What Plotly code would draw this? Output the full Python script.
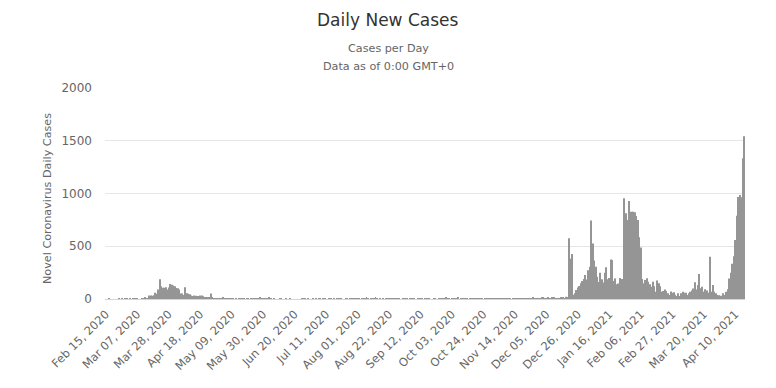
import pandas as pd
import plotly.graph_objects as go

start_date = "2020-02-15"

cases_2020_feb = [0, 0, 1, 0, 0, 0, 0, 0, 0, 2, 0, 3, 0, 1, 1]
cases_2020_mar = [0, 1, 0, 1, 4, 1, 2, 0, 0, 3, 6, 11, 5, 7, 32, 33, 30, 35, 60, 50,
                  89, 188, 122, 106, 107, 111, 91, 109, 143, 136, 127]
cases_2020_apr = [120, 104, 103, 89, 51, 51, 38, 111, 54, 50, 45, 33, 28, 34, 30, 29,
                  28, 33, 32, 27, 19, 15, 13, 15, 53, 15, 9, 7, 7, 3]
cases_2020_may = [6, 6, 18, 3, 1, 1, 1, 3, 3, 5, 0, 2, 0, 1, 7, 3, 3, 0, 2, 1, 0, 3, 1,
                  1, 2, 3, 3, 11, 1, 3, 1]
cases_2020_jun = [1, 1, 12, 1, 0, 2, 0, 0, 0, 1, 1, 0, 0, 5, 0, 0, 4, 0, 0, 0, 0, 0, 0,
                  0, 2, 2, 5, 0, 2, 0]
cases_2020_jul = [0, 3, 0, 2, 0, 1, 4, 0, 1, 3, 0, 0, 1, 6, 0, 3, 0, 2, 2, 2, 1, 0, 0,
                  1, 1, 0, 2, 2, 2, 1, 1]
cases_2020_aug = [1, 3, 0, 1, 5, 2, 12, 1, 0, 3, 4, 2, 14, 2, 0, 5, 0, 2, 0, 2, 1, 2, 2,
                  1, 2, 1, 1, 3, 2, 0, 1]
cases_2020_sep = [3, 1, 2, 0, 1, 2, 7, 1, 0, 7, 1, 4, 2, 0, 2, 3, 1, 2, 0, 0, 1, 4, 0,
                  5, 3, 2, 2, 1, 14, 3]
cases_2020_oct = [6, 0, 5, 2, 1, 4, 12, 0, 2, 2, 3, 4, 3, 0, 5, 3, 4, 3, 3, 2, 1, 6, 4,
                  0, 8, 3, 9, 3, 4, 1, 2]
cases_2020_nov = [2, 7, 4, 3, 6, 7, 3, 2, 4, 2, 6, 0, 7, 4, 1, 5, 6, 4, 5, 8, 4, 5, 8,
                  6, 5, 14, 7, 2, 5, 6]
cases_2020_dec = [8, 10, 14, 9, 1, 13, 6, 3, 12, 14, 6, 4, 8, 5, 13, 17, 8, 22, 18, 576,
                  382, 427, 40, 55, 85, 110, 123, 150, 170, 190, 227]
cases_2021_jan = [185, 272, 305, 745, 527, 365, 305, 212, 162, 249, 187, 157, 250, 301,
                  188, 200, 374, 369, 171, 194, 140, 146, 198, 190, 190, 954, 812, 749,
                  929, 828, 828]
cases_2021_feb = [828, 822, 787, 749, 585, 487, 190, 150, 180, 196, 164, 140, 117, 164,
                  120, 69, 175, 150, 120, 69, 75, 90, 75, 54, 38, 70, 60, 65]
cases_2021_mar = [40, 28, 54, 28, 54, 69, 60, 60, 38, 54, 69, 80, 100, 158, 90, 132, 237,
                  101, 117, 69, 92, 80, 60, 401, 69, 132, 69, 54, 38, 35, 31]
cases_2021_apr = [31, 54, 38, 69, 92, 194, 250, 334, 405, 559, 789, 967, 985, 965, 1335,
                  1543]

daily_cases = (cases_2020_feb + cases_2020_mar + cases_2020_apr + cases_2020_may +
               cases_2020_jun + cases_2020_jul + cases_2020_aug + cases_2020_sep +
               cases_2020_oct + cases_2020_nov + cases_2020_dec + cases_2021_jan +
               cases_2021_feb + cases_2021_mar + cases_2021_apr)

dates = pd.date_range(start_date, periods=len(daily_cases), freq="D")
categories = [d.strftime("%b %d, %Y") for d in dates]
tick_labels = categories[::21]

y_ticks = [0, 500, 1000, 1500, 2000]

FONT = "DejaVu Sans"

# the page body adds an 8px offset, so the figure is laid out 8px up/left
OFF = 8
W, H = 768, 380
ML, MR, MT, MB = 105 - OFF, 31, 88 - OFF, 89
plot_w = W - ML - MR
plot_h = H - MT - MB


def px_x(px):
    return (px - OFF - ML) / plot_w


def px_y(py):
    return (H - MB - (py - OFF)) / plot_h


fig = go.Figure()
fig.add_trace(go.Bar(
    x=categories, y=daily_cases,
    marker=dict(color="#959595", line=dict(width=0)),
    hoverinfo="x+y",
))

annotations = [
    dict(text="Daily New Cases", x=px_x(388), y=px_y(20), xref="paper", yref="paper",
         xanchor="center", yanchor="middle", showarrow=False,
         font=dict(family=FONT, size=17, color="#333333")),
    dict(text="Cases per Day", x=px_x(388), y=px_y(49), xref="paper", yref="paper",
         xanchor="center", yanchor="middle", showarrow=False,
         font=dict(family=FONT, size=11.2, color="#666666")),
    dict(text="Data as of 0:00 GMT+0", x=px_x(388), y=px_y(67), xref="paper", yref="paper",
         xanchor="center", yanchor="middle", showarrow=False,
         font=dict(family=FONT, size=11.2, color="#666666")),
    dict(text="Novel Coronavirus Daily Cases", x=px_x(47), y=px_y(199),
         xref="paper", yref="paper", xanchor="center", yanchor="middle",
         showarrow=False, textangle=-90,
         font=dict(family=FONT, size=11.2, color="#666666")),
]

fig.update_layout(
    width=W, height=H,
    margin=dict(l=ML, r=MR, t=MT, b=MB, autoexpand=False),
    paper_bgcolor="white", plot_bgcolor="white",
    bargap=0.4,
    showlegend=False,
    font=dict(family=FONT, color="#666666", size=12),
    xaxis=dict(
        type="category",
        tickmode="array", tickvals=tick_labels, ticktext=tick_labels,
        tickangle=-45,
        tickfont=dict(size=11.5, color="#666666"),
        showgrid=False,
        showline=True, linecolor="#ccd6eb", linewidth=1,
        ticks="", zeroline=False, automargin=False,
        ticklabelstandoff=3,
        range=[-0.5, len(daily_cases) - 0.5],
    ),
    yaxis=dict(
        range=[0, 2000],
        tickmode="array", tickvals=y_ticks,
        tickfont=dict(size=12, color="#666666"),
        gridcolor="#e6e6e6", gridwidth=1,
        zeroline=False, showline=False, automargin=False,
        ticks="", ticklabelstandoff=12,
    ),
    annotations=annotations,
)

fig.write_html("out.html")
